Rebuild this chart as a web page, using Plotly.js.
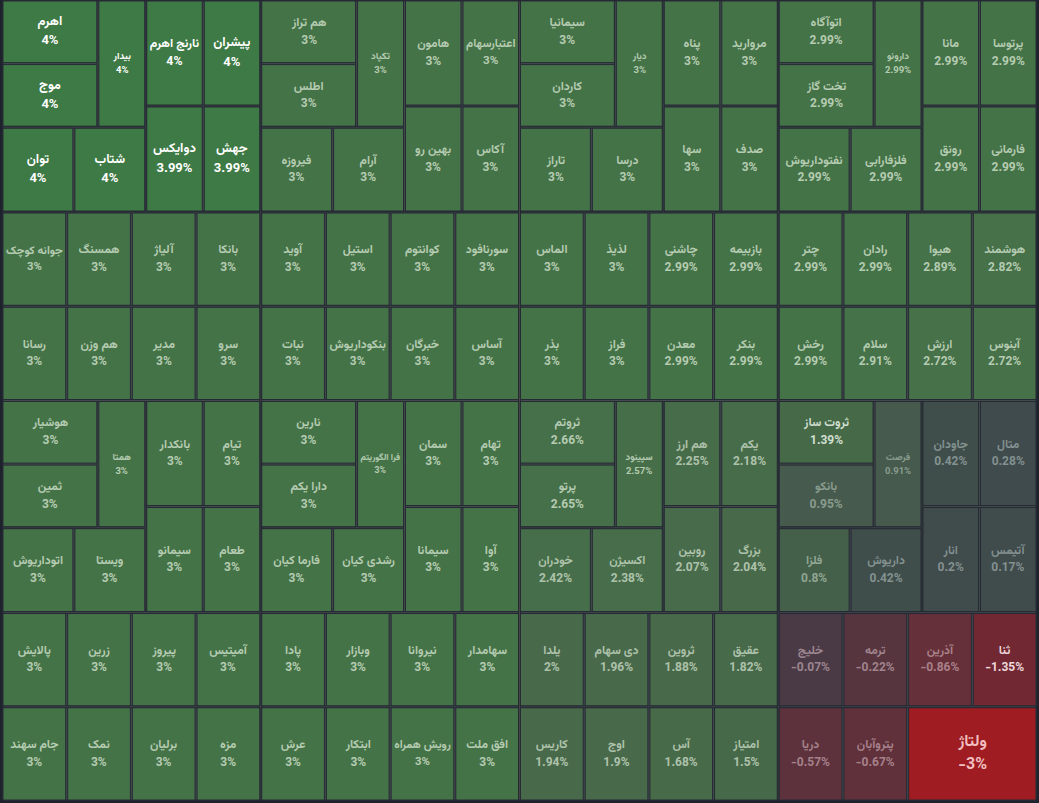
<!DOCTYPE html>
<html><head><meta charset="utf-8">
<script src="https://cdn.plot.ly/plotly-3.0.1.min.js"></script>
<style>html,body{margin:0;padding:0;background:#1e222d;} #chart{width:1039px;height:803px;}</style>
</head><body><div id="chart"></div>
<script>
// ---- data (layout order inside each column block) ----
const col1Names = ['اهرم','موج','بیدار','توان','شتاب','نارنج اهرم','پیشران','دوایکس','جهش',
  'جوانه کوچک','همسنگ','آلیاژ','بانکا',
  'رسانا','هم وزن','مدیر','سرو',
  'هوشیار','ثمین','همتا','اتوداریوش','ویستا','بانکدار','تیام','سیمانو','طعام',
  'پالایش','زرین','پیروز','آمیتیس',
  'جام سهند','نمک','برلیان','مزه'];
const col1Changes = [4,4,4,4,4,4,4,3.99,3.99, 3,3,3,3, 3,3,3,3, 3,3,3,3,3,3,3,3,3, 3,3,3,3, 3,3,3,3];

const col2Names = ['هم تراز','اطلس','تکپاد','فیروزه','آرام','هامون','اعتبارسهام','بهین رو','آکاس',
  'آوید','استیل','کوانتوم','سورنافود',
  'نبات','بنکوداریوش','خبرگان','آساس',
  'نارین','دارا یکم','فرا الگوریتم','فارما کیان','رشدی کیان','سمان','تهام','سیمانا','آوا',
  'پادا','وبازار','نیروانا','سهامدار',
  'عرش','ابتکار','رویش همراه','افق ملت'];
const col2Changes = [3,3,3,3,3,3,3,3,3, 3,3,3,3, 3,3,3,3, 3,3,3,3,3,3,3,3,3, 3,3,3,3, 3,3,3,3];

const col3Names = ['سیمانیا','کاردان','دیار','تاراز','درسا','پناه','مروارید','سها','صدف',
  'الماس','لذیذ','چاشنی','بازبیمه',
  'بذر','فراز','معدن','بنکر',
  'ثروتم','پرتو','سپینود','خودران','اکسیژن','هم ارز','یکم','روبین','بزرگ',
  'یلدا','دی سهام','ثروین','عقیق',
  'کاریس','اوج','آس','امتیاز'];
const col3Changes = [3,3,3,3,3,3,3,3,3, 3,3,2.99,2.99, 3,3,2.99,2.99,
  2.66,2.65,2.57,2.42,2.38,2.25,2.18,2.07,2.04, 2,1.96,1.88,1.82, 1.94,1.9,1.68,1.5];

const col4Names = ['اتوآگاه','تخت گاز','دارونو','نفتوداریوش','فلزفارابی','مانا','پرتوسا','رونق','فارمانی',
  'چتر','رادان','هیوا','هوشمند',
  'رخش','سلام','ارزش','آبنوس',
  'ثروت ساز','بانکو','فرصت','فلزا','داریوش','جاودان','متال','انار','آتیمس',
  'خلیج','ترمه','آذرین','ثنا',
  'دریا','پتروآبان','ولتاژ'];
const col4Changes = [2.99,2.99,2.99,2.99,2.99,2.99,2.99,2.99,2.99, 2.99,2.99,2.89,2.82, 2.99,2.91,2.72,2.72,
  1.39,0.95,0.91,0.8,0.42,0.42,0.28,0.2,0.17, -0.07,-0.22,-0.86,-1.35, -0.57,-0.67,-3];

// relative tile weights (all equal except the double-size tile)
const tileWeights = {'ولتاژ': 2};
// number of tiles in each horizontal band of a column block
const bandCounts = [9,4,4,9,4,4];

// ---- build hierarchy ----
const columns = [[col1Names,col1Changes],[col2Names,col2Changes],[col3Names,col3Changes],[col4Names,col4Changes]];
const ids=[], labels=[], parents=[], values=[], colorVals=[], texts=[], txtColors=[], txtSizes=[];
let uid = 0;
function textColor(v){
  if (v >= 3.5) return '#ffffff';
  if (v >= 2.5) return 'rgba(225,240,222,0.72)';
  if (v >= 1.45) return 'rgba(225,238,222,0.68)';
  if (v >= 1.0) return 'rgba(235,245,232,0.85)';
  if (v >= 0.85) return 'rgba(205,220,210,0.5)';
  if (v >= 0.5) return 'rgba(210,225,212,0.55)';
  if (v >= 0) return 'rgba(200,215,215,0.5)';
  if (v > -1) return 'rgba(225,200,208,0.55)';
  if (v > -2) return 'rgba(250,232,236,0.92)';
  return 'rgba(255,215,215,0.88)';
}
function group(parent){
  const id = 'g' + (uid++);
  ids.push(id); labels.push(''); parents.push(parent); values.push(0);
  colorVals.push(0); texts.push(''); txtColors.push('#fff'); txtSizes.push(12);
  return id;
}
function leaf(parent, name, ch, narrow){
  ids.push('l' + (uid++)); labels.push(name); parents.push(parent);
  const w = tileWeights[name] || 1;
  const s = narrow ? 9.5 : (w > 1 ? 16 : (ch >= 3.5 ? 13 : 12));
  values.push(w); colorVals.push(ch);
  // line gap slightly wider than Plotly's default line spacing
  texts.push('<span style="font-size:' + s + 'px">' + name + '</span><br>' +
             '<span style="font-size:' + s + 'px">' + ch + '%</span>');
  txtColors.push(textColor(ch));
  txtSizes.push(s * 1.13);
}
columns.forEach(([names, changes]) => {
  const colId = group('');
  let k = 0;
  bandCounts.forEach((n, b) => {
    if (b === bandCounts.length - 1) n = names.length - k;
    const nm = names.slice(k, k + n), chs = changes.slice(k, k + n);
    k += n;
    const bandId = group(colId);
    if (n === 9) {
      const L = group(bandId);
      const LT = group(L);
      const ST = group(LT);
      leaf(ST, nm[0], chs[0]); leaf(ST, nm[1], chs[1]);
      leaf(LT, nm[2], chs[2], true);
      const LB = group(L);
      leaf(LB, nm[3], chs[3]); leaf(LB, nm[4], chs[4]);
      const R = group(bandId);
      const RT = group(R);
      leaf(RT, nm[5], chs[5]); leaf(RT, nm[6], chs[6]);
      const RB = group(R);
      leaf(RB, nm[7], chs[7]); leaf(RB, nm[8], chs[8]);
    } else {
      nm.forEach((s, i) => leaf(bandId, s, chs[i]));
    }
  });
});

const cmin = -3, cmax = 4;
const pos = v => (v - cmin) / (cmax - cmin);
const colorscale = [
  [pos(-3), '#9e1c22'],
  [pos(-1.35), '#722832'],
  [pos(-0.86), '#66303a'],
  [pos(-0.6), '#5e323c'],
  [pos(-0.22), '#56353f'],
  [pos(-0.07), '#4a3a46'],
  [pos(0), '#424a4c'],
  [pos(0.3), '#3f4b4c'],
  [pos(0.45), '#404f4b'],
  [pos(0.8), '#45604a'],
  [pos(0.93), '#465a4d'],
  [pos(1.4), '#466a48'],
  [pos(2.0), '#486a4b'],
  [pos(2.99), '#457348'],
  [pos(3.5), '#43754a'],
  [pos(4), '#3e7a45']
];

const trace = {
  type: 'treemap',
  ids: ids, labels: labels, parents: parents, values: values,
  branchvalues: 'remainder',
  sort: false,
  text: texts,
  textinfo: 'text',
  textposition: 'middle center',
  textfont: {family: 'Vazirmatn, "DejaVu Sans", "Noto Sans", sans-serif', size: txtSizes, color: txtColors, weight: 'bold'},
  marker: {
    colors: colorVals, colorscale: colorscale, cmin: cmin, cmax: cmax, showscale: false,
    line: {width: 1, color: '#262a35'},
    pad: {t: 0, l: 0, r: 0, b: 0}
  },
  tiling: {packing: 'slice-dice', pad: 2},
  pathbar: {visible: false},
  hoverinfo: 'label'
};

const layout = {
  width: 1039, height: 803,
  margin: {l: 3, r: 3, t: 1, b: 3},
  paper_bgcolor: '#1e222d',
  plot_bgcolor: '#1e222d',
  showlegend: false
};

Plotly.newPlot('chart', [trace], layout, {displayModeBar: false, staticPlot: true});
</script>
</body></html>
